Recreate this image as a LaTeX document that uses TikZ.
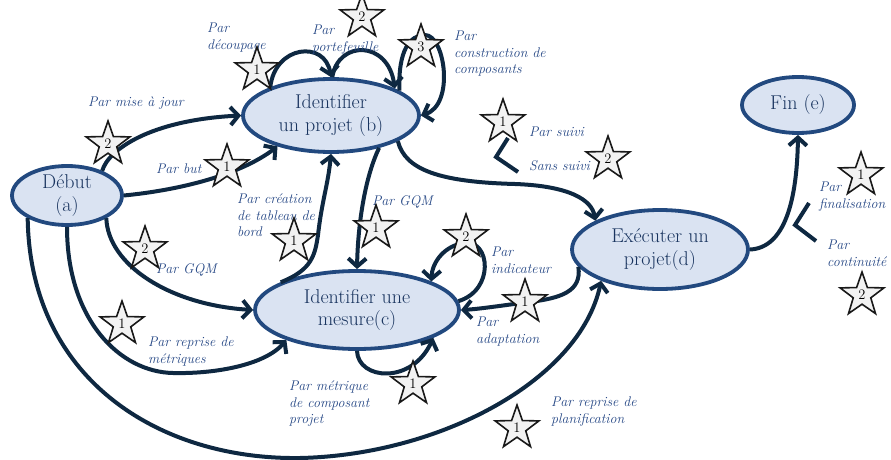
\documentclass[tikz,border=0pt]{standalone}
\usepackage{fontspec}
\usetikzlibrary{shapes.geometric,arrows.meta}
\definecolor{nfill}{HTML}{DAE3F2}
\definecolor{nborder}{HTML}{22497F}
\definecolor{ntext}{HTML}{19345F}
\definecolor{edgec}{HTML}{0E2841}
\definecolor{ltext}{HTML}{244684}
\definecolor{sfill}{HTML}{F2F2F2}
\begin{document}
\begin{tikzpicture}[x=1pt,y=-1pt,
 state/.style={ellipse,draw=nborder,fill=nfill,line width=3.8pt,text=ntext,align=center,inner sep=0pt,font=\fontsize{20}{22.5}\selectfont},
 lab/.style={anchor=north west,align=left,inner sep=0pt,text=ltext,font=\fontsize{14}{16.3}\selectfont\itshape},
 starn/.style={star,star points=5,star point ratio=2.5,minimum size=46pt,inner sep=0pt,draw=black!90,fill=sfill,line width=1.6pt,font=\fontsize{14.5}{14.5}\selectfont},
 conn/.style={draw=edgec,line width=4pt,-{Straight Barb[length=8pt,width=18pt]}},
 chev/.style={draw=edgec,line width=4pt,line join=miter}
]
\useasboundingbox (0,0) rectangle (891,460);

% states
\node[state,minimum width=110pt,minimum height=59pt] (a) at (67,195.5) {Début\\(a)};
\node[state,minimum width=176pt,minimum height=73pt] (b) at (331,115.5) {Identifier\\un projet (b)};
\node[state,minimum width=204pt,minimum height=78pt] (c) at (357,310) {Identifier une\\mesure(c)};
\node[state,minimum width=176pt,minimum height=79pt] (d) at (660,249.5) {Exécuter un\\projet(d)};
\node[state,minimum width=112pt,minimum height=56pt] (e) at (798,105) {Fin (e)};

% connectors
\draw[conn] (a.35) .. controls (108,150) and (150,120) .. (b.west);
\draw[conn] (a.east) .. controls (180,190) and (240,175) .. (b.210);
\draw[conn] (a.-30) .. controls (108,265) and (170,305) .. (c.west);
\draw[conn] (a.south) .. controls (67,320) and (120,372) .. (173,373) .. controls (215,374) and (265,365) .. (c.203);
\draw[conn] (a.210) .. controls (30,380) and (160,460) .. (300,458) .. controls (440,455) and (580,380) .. (d.208);
\draw[conn] (b.155) .. controls (275,45) and (325,40) .. (b.north);
\draw[conn] (b.88) .. controls (338,40) and (388,40) .. (b.23);
\draw[conn] (b.20) .. controls (398,50) and (410,35) .. (425,35) .. controls (445,35) and (455,105) .. (b.east);
\draw[conn] (c.160) .. controls (312,270) and (315,255) .. (318,235) .. controls (322,200) and (328,185) .. (b.south);
\draw[conn] (b.326) .. controls (366,175) and (358,220) .. (c.north);
\draw[conn] (b.339) .. controls (405,170) and (440,182) .. (515,184) .. controls (570,186) and (592,200) .. (d.156);
\draw[conn] (c.5) .. controls (495,290) and (490,240) .. (465,243) .. controls (445,245) and (432,262) .. (c.21);
\draw[conn] (d.192) .. controls (582,292) and (560,298) .. (530,302) .. controls (505,305) and (480,309) .. (c.east);
\draw[conn] (c.south) .. controls (358,380) and (412,385) .. (c.340);
\draw[conn] (d.east) .. controls (785,248) and (797,200) .. (e.south);

% decision chevrons
\coordinate (k1) at (508,138); \coordinate (k2) at (496,157); \coordinate (k3) at (518,172);
\coordinate (k4) at (809,203); \coordinate (k5) at (795,225); \coordinate (k6) at (816,241);
\draw[chev] (k1) -- (k2) -- (k3);
\draw[chev] (k4) -- (k5) -- (k6);

% labels
\node[lab] (l1) at (207,23) {Par\\découpage};
\node[lab] (l2) at (312,25) {Par\\portefeuille};
\node[lab] (l3) at (454,31) {Par\\construction de\\composants};
\node[lab] (l4) at (88,97) {Par mise à jour};
\node[lab] (l5) at (156,164) {Par but};
\node[lab] (l6) at (237,194) {Par création\\de tableau de\\bord};
\node[lab] (l7) at (372,195) {Par GQM};
\node[lab] (l8) at (156,263) {Par GQM};
\node[lab] (l9) at (148,337) {Par reprise de\\métriques};
\node[lab] (l10) at (289,381) {Par métrique\\de composant\\projet};
\node[lab] (l11) at (491,247) {Par\\indicateur};
\node[lab] (l12) at (476,317) {Par\\adaptation};
\node[lab] (l13) at (551,397) {Par reprise de\\planification};
\node[lab] (l14) at (529,127) {Par suivi};
\node[lab] (l15) at (529,160) {Sans suivi};
\node[lab] (l16) at (819,182) {Par\\finalisation};
\node[lab] (l17) at (827,240) {Par\\continuité};

% stars
\node[starn] (s1) at (257,70) {1};
\node[starn] (s2) at (362,17) {2};
\node[starn] (s3) at (421,47) {3};
\node[starn] (s4) at (108,144) {2};
\node[starn] (s5) at (227,167) {1};
\node[starn] (s6) at (503,122) {1};
\node[starn] (s7) at (608,159) {2};
\node[starn] (s8) at (861,175) {1};
\node[starn] (s9) at (862,295) {2};
\node[starn] (s10) at (145,249) {2};
\node[starn] (s11) at (122,324) {1};
\node[starn] (s12) at (294,241) {1};
\node[starn] (s13) at (376,228) {1};
\node[starn] (s14) at (466,237) {2};
\node[starn] (s15) at (525,302) {1};
\node[starn] (s16) at (413,384) {1};
\node[starn] (s17) at (517,428) {1};
\end{tikzpicture}
\end{document}
